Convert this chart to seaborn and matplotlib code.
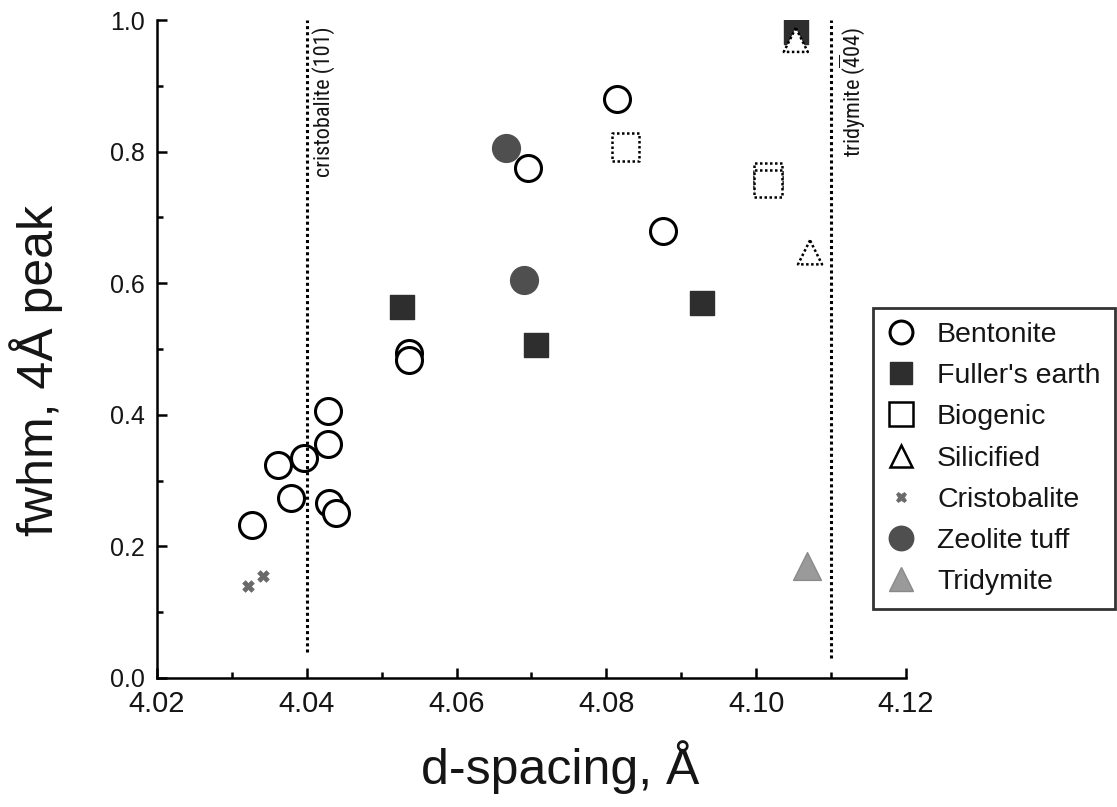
import numpy as np
import pandas as pd
import matplotlib
matplotlib.use("Agg")
import matplotlib.pyplot as plt
import seaborn as sns
from matplotlib import font_manager
from matplotlib.ticker import MultipleLocator
from matplotlib.lines import Line2D

# d-spacing (Å) and fwhm of the 4 Å peak for each sample group
bentonite_x = [4.0327, 4.0362, 4.0379, 4.0396, 4.0428, 4.0428, 4.0430, 4.0439,
               4.0536, 4.0536, 4.0695, 4.0814, 4.0876]
bentonite_y = [0.233, 0.324, 0.274, 0.334, 0.406, 0.356, 0.266, 0.251,
               0.494, 0.483, 0.775, 0.880, 0.680]
fullers_x = [4.0527, 4.0706, 4.0928, 4.1053]
fullers_y = [0.564, 0.506, 0.570, 0.982]
biogenic_x = [4.0826, 4.1016, 4.1016]
biogenic_y = [0.807, 0.762, 0.752]
silicified_x = [4.1053, 4.1072]
silicified_y = [0.970, 0.647]
cristobalite_x = [4.0321, 4.0342]
cristobalite_y = [0.140, 0.155]
zeolite_x = [4.0666, 4.0690]
zeolite_y = [0.805, 0.605]
tridymite_x = [4.1068]
tridymite_y = [0.170]

ref_lines = [4.04, 4.11]
x_ticks = [4.02, 4.04, 4.06, 4.08, 4.10, 4.12]
y_ticks = [0.0, 0.2, 0.4, 0.6, 0.8, 1.0]

sns.set_theme(style="ticks")
plt.rcParams['font.family'] = ['Liberation Sans', 'DejaVu Sans']
ink = "#151515"
plt.rcParams['text.color'] = ink
plt.rcParams['axes.labelcolor'] = ink
plt.rcParams['xtick.color'] = ink
plt.rcParams['ytick.color'] = ink

# narrow face for the peak annotations, if one is installed
available = {f.name for f in font_manager.fontManager.ttflist}
narrow = next((n for n in ['Liberation Sans Narrow', 'Roboto Condensed',
                           'Open Sans Condensed', 'DejaVu Sans Condensed']
               if n in available), None)
if narrow is None:
    narrow, note_size = 'Liberation Sans', 14.5
else:
    note_size = 18 if narrow == 'Liberation Sans Narrow' else 16
plt.rcParams['mathtext.fontset'] = 'custom'
plt.rcParams['mathtext.rm'] = narrow

fig = plt.figure(figsize=(11.17, 8.07), dpi=100)
ax = fig.add_axes([0.1405, 0.160, 0.6705, 0.815])

dotted = (0, (1, 1))

styles = {
    "Bentonite": dict(x=bentonite_x, y=bentonite_y, marker="o", s=350,
                      facecolor="white", edgecolor="black", linewidth=2.2, ls="solid", z=3),
    "Fuller's earth": dict(x=fullers_x, y=fullers_y, marker="s", s=300,
                           facecolor="#2e2e2e", edgecolor="#2e2e2e", linewidth=1.0, ls="solid", z=2),
    "Biogenic": dict(x=biogenic_x, y=biogenic_y, marker="s", s=390,
                     facecolor="white", edgecolor="black", linewidth=1.8, ls=dotted, z=3),
    "Silicified": dict(x=silicified_x, y=silicified_y, marker="^", s=300,
                       facecolor="white", edgecolor="black", linewidth=1.8, ls=dotted, z=4),
    "Cristobalite": dict(x=cristobalite_x, y=cristobalite_y, marker="X", s=70,
                         facecolor="#6a6a6a", edgecolor="#6a6a6a", linewidth=0.5, ls="solid", z=3),
    "Zeolite tuff": dict(x=zeolite_x, y=zeolite_y, marker="o", s=400,
                         facecolor="#4f4f4f", edgecolor="#4f4f4f", linewidth=1.0, ls="solid", z=2),
    "Tridymite": dict(x=tridymite_x, y=tridymite_y, marker="^", s=400,
                      facecolor="#9a9a9a", edgecolor="#8a8a8a", linewidth=1.0, ls="solid", z=3),
}

for name, st in styles.items():
    df = pd.DataFrame({"d": st["x"], "fwhm": st["y"]})
    sns.scatterplot(data=df, x="d", y="fwhm", ax=ax, marker=st["marker"], s=st["s"],
                    color=st["facecolor"], edgecolor=st["edgecolor"],
                    linewidth=st["linewidth"], linestyle=st["ls"],
                    zorder=st["z"], legend=False)

# reference peak positions
ax.axvline(ref_lines[0], ymin=0.04, ymax=1.0, color="black", lw=2.2, ls=dotted, zorder=5)
ax.axvline(ref_lines[1], ymin=0.03, ymax=1.0, color="black", lw=2.2, ls=dotted, zorder=5)
ax.text(ref_lines[0] + 0.0023, 0.99, "cristobalite (101)", rotation=90,
        ha="center", va="top", fontsize=note_size, family=narrow)
ax.text(ref_lines[1] + 0.0028, 0.99, r"tridymite ($\overline{\mathrm{4}}$04)", rotation=90,
        ha="center", va="top", fontsize=note_size, family=narrow)

ax.set_xlim(4.02, 4.12)
ax.set_ylim(0.0, 1.0)
ax.set_xticks(x_ticks)
ax.set_yticks(y_ticks)
ax.set_xticklabels([f"{v:.2f}" for v in x_ticks])
ax.set_yticklabels([f"{v:.1f}" for v in y_ticks])
ax.xaxis.set_minor_locator(MultipleLocator(0.01))
ax.yaxis.set_minor_locator(MultipleLocator(0.1))
ax.tick_params(axis="both", which="major", direction="in", length=7, width=1.8, color="black")
ax.tick_params(axis="both", which="minor", direction="in", length=4, width=1.8, color="black")
ax.tick_params(axis="x", which="major", labelsize=21, pad=9)
ax.tick_params(axis="y", which="major", labelsize=18, pad=9)

for side in ("top", "right"):
    ax.spines[side].set_visible(False)
for side in ("left", "bottom"):
    ax.spines[side].set_linewidth(1.8)
    ax.spines[side].set_color("black")

ax.set_xlabel("d-spacing, Å", fontsize=36)
ax.set_ylabel("fwhm, 4Å peak", fontsize=36)
ax.xaxis.set_label_coords(0.538, -0.095)
ax.yaxis.set_label_coords(-0.125, 0.468)

handles = []
for name, st in styles.items():
    ms = np.sqrt(st["s"]) * 0.88
    handles.append(Line2D([], [], linestyle="none", marker=st["marker"], markersize=ms,
                          markerfacecolor=st["facecolor"], markeredgecolor=st["edgecolor"],
                          markeredgewidth=st["linewidth"], label=name))

leg = fig.legend(handles=handles, loc="upper left", bbox_to_anchor=(873 / 1117, 1 - 308 / 807),
                 frameon=True, fancybox=False, fontsize=20.5, labelspacing=0.53,
                 handlelength=1.0, handletextpad=0.75, borderpad=0.5, borderaxespad=0.0,
                 labelcolor=ink)
leg.get_frame().set_edgecolor("black")
leg.get_frame().set_linewidth(2.0)

fig.savefig("out.png", dpi=100)
